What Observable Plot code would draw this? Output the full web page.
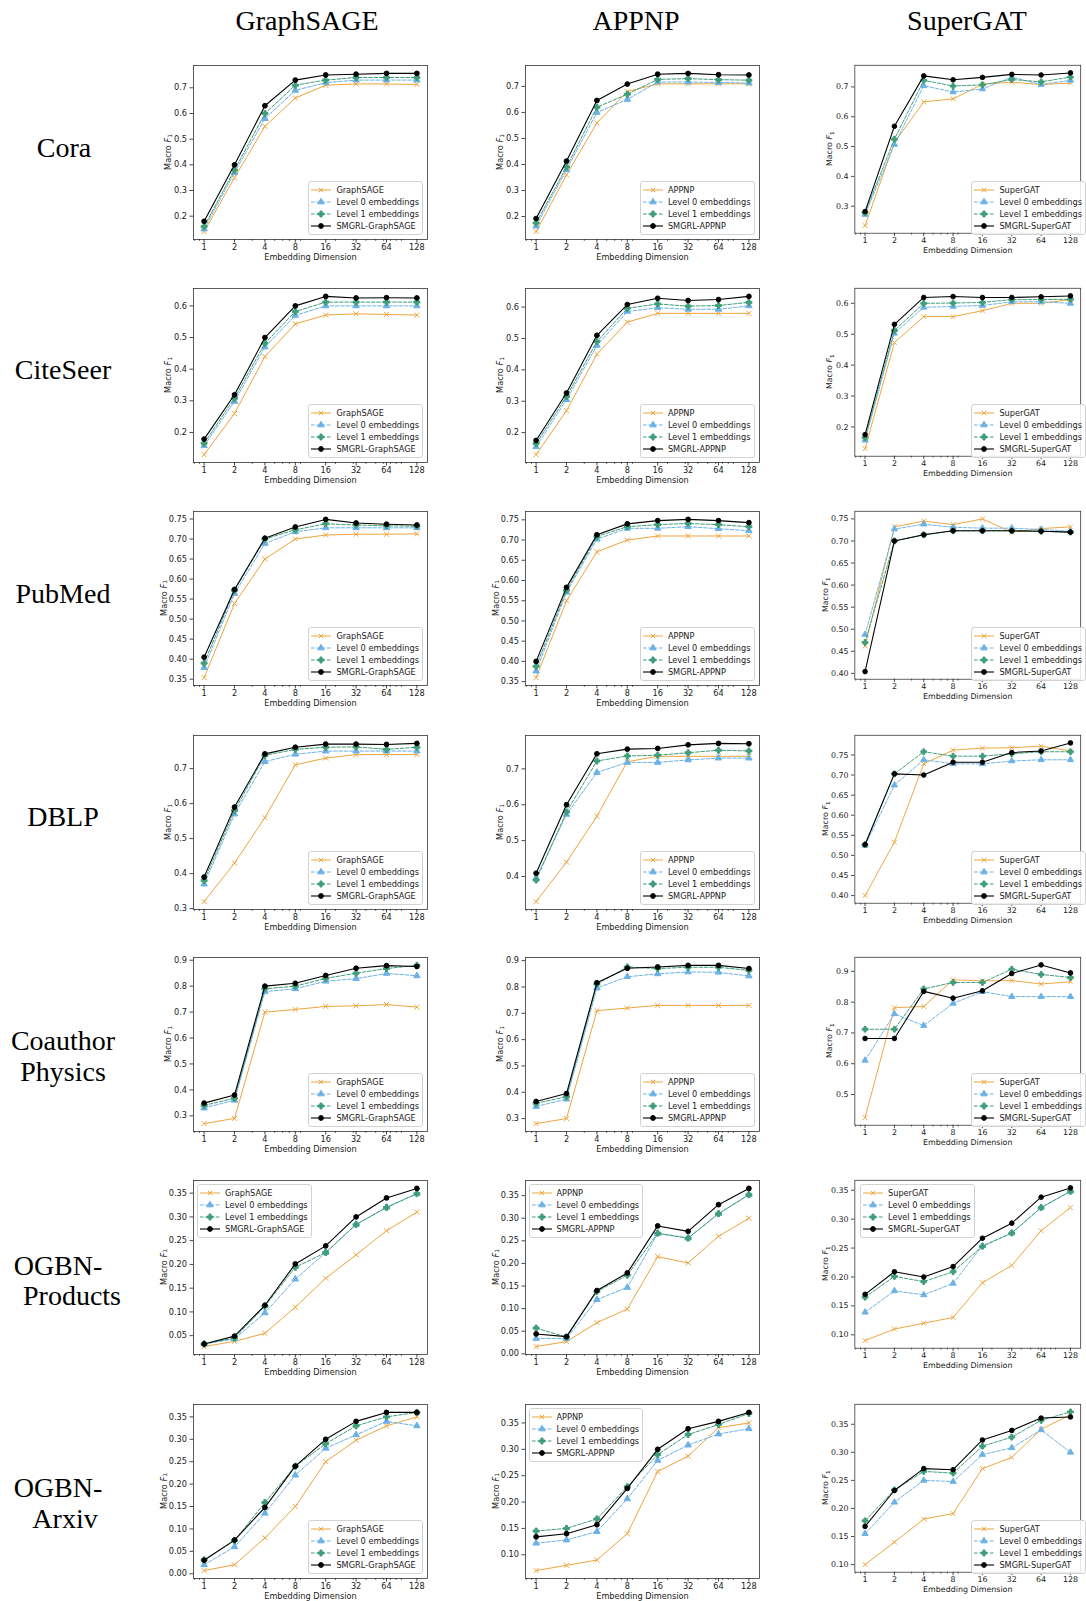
<!DOCTYPE html>
<html>
<head>
<meta charset="utf-8">
<script src="https://cdn.jsdelivr.net/npm/d3@7"></script>
<script src="https://cdn.jsdelivr.net/npm/@observablehq/plot@0.6"></script>
<style>
  html, body { margin: 0; padding: 0; background: #fff; }
  #page { position: relative; width: 1086px; height: 1601px; overflow: hidden; background: #fff; }
  .serif { position: absolute; font-family: "Liberation Serif", "Times New Roman", serif; font-size: 28px; color: #000;
           transform: translate(-50%, -50%); white-space: nowrap; line-height: 1; }
  .panel { position: absolute; }
  .legend { position: absolute; background: rgba(255,255,255,0.85); border: 1px solid #d2d2d2; border-radius: 3px;
            padding: 2px 3px 2px 2px; font-family: "DejaVu Sans", sans-serif; font-size: 8.2px; color: #1a1a1a; }
  .legend .item { display: flex; align-items: center; height: 12px; white-space: nowrap; }
  .legend svg { display: block; margin-right: 5px; }
</style>
</head>
<body>
<div id="page"></div>
<script>
// ---------------- data ----------------
const dims = [1, 2, 4, 8, 16, 32, 64, 128];
const dimLabels = ["1", "2", "4", "8", "16", "32", "64", "128"];
const minorTicks = [0.8, 0.9, 3, 5, 6, 7, 9, 20, 30, 40, 50, 60, 70, 80, 90];
const models = ["GraphSAGE", "APPNP", "SuperGAT"];
const datasetLabels = [["Cora"], ["CiteSeer"], ["PubMed"], ["DBLP"], ["Coauthor", "Physics"], ["OGBN-", "Products"], ["OGBN-", "Arxiv"]];
const seriesLabels = ["", "Level 0 embeddings", "Level 1 embeddings", "SMGRL-"];
const xLabel = "Embedding Dimension";

// each: [base model, Level 0 embeddings, Level 1 embeddings, SMGRL-model]
const cora_GraphSAGE = [
  [0.14, 0.35, 0.55, 0.66, 0.71, 0.715, 0.715, 0.713],
  [0.15, 0.37, 0.58, 0.69, 0.72, 0.73, 0.73, 0.73],
  [0.16, 0.38, 0.60, 0.71, 0.73, 0.74, 0.74, 0.74],
  [0.18, 0.40, 0.63, 0.73, 0.75, 0.753, 0.756, 0.756]];
const cora_APPNP = [
  [0.142, 0.36, 0.56, 0.68, 0.71, 0.71, 0.71, 0.71],
  [0.163, 0.38, 0.60, 0.65, 0.717, 0.717, 0.715, 0.713],
  [0.175, 0.39, 0.62, 0.67, 0.727, 0.73, 0.726, 0.724],
  [0.192, 0.413, 0.646, 0.709, 0.747, 0.75, 0.745, 0.744]];
const cora_SuperGAT = [
  [0.235, 0.513, 0.65, 0.66, 0.709, 0.716, 0.708, 0.713],
  [0.272, 0.507, 0.704, 0.683, 0.693, 0.733, 0.708, 0.722],
  [0.278, 0.525, 0.722, 0.703, 0.707, 0.725, 0.717, 0.733],
  [0.282, 0.568, 0.737, 0.724, 0.732, 0.742, 0.74, 0.747]];

const citeseer_GraphSAGE = [
  [0.13, 0.26, 0.44, 0.543, 0.571, 0.575, 0.573, 0.571],
  [0.158, 0.298, 0.47, 0.57, 0.60, 0.60, 0.60, 0.60],
  [0.166, 0.308, 0.482, 0.582, 0.612, 0.612, 0.612, 0.612],
  [0.179, 0.319, 0.50, 0.60, 0.63, 0.625, 0.626, 0.625]];
const citeseer_APPNP = [
  [0.13, 0.27, 0.45, 0.552, 0.58, 0.58, 0.58, 0.58],
  [0.155, 0.305, 0.478, 0.586, 0.598, 0.593, 0.593, 0.604],
  [0.165, 0.315, 0.49, 0.596, 0.61, 0.603, 0.605, 0.615],
  [0.175, 0.326, 0.51, 0.608, 0.628, 0.621, 0.624, 0.634]];
const citeseer_SuperGAT = [
  [0.13, 0.473, 0.557, 0.557, 0.576, 0.60, 0.60, 0.612],
  [0.157, 0.503, 0.587, 0.59, 0.593, 0.605, 0.605, 0.60],
  [0.165, 0.512, 0.60, 0.601, 0.603, 0.612, 0.612, 0.613],
  [0.175, 0.532, 0.619, 0.622, 0.619, 0.619, 0.621, 0.624]];

const pubmed_GraphSAGE = [
  [0.354, 0.539, 0.65, 0.70, 0.71, 0.712, 0.712, 0.713],
  [0.379, 0.564, 0.689, 0.718, 0.728, 0.728, 0.728, 0.728],
  [0.39, 0.572, 0.70, 0.723, 0.738, 0.735, 0.733, 0.732],
  [0.405, 0.574, 0.702, 0.73, 0.749, 0.74, 0.737, 0.735]];
const pubmed_APPNP = [
  [0.36, 0.55, 0.671, 0.70, 0.71, 0.71, 0.71, 0.71],
  [0.376, 0.571, 0.702, 0.729, 0.729, 0.733, 0.728, 0.723],
  [0.388, 0.576, 0.709, 0.733, 0.738, 0.741, 0.738, 0.733],
  [0.40, 0.583, 0.713, 0.74, 0.748, 0.751, 0.748, 0.743]];
const pubmed_SuperGAT = [
  [0.462, 0.732, 0.745, 0.737, 0.75, 0.72, 0.728, 0.732],
  [0.488, 0.727, 0.738, 0.731, 0.729, 0.729, 0.726, 0.722],
  [0.47, 0.70, 0.714, 0.723, 0.723, 0.723, 0.722, 0.72],
  [0.404, 0.70, 0.714, 0.723, 0.723, 0.723, 0.722, 0.72]];

const dblp_GraphSAGE = [
  [0.32, 0.43, 0.56, 0.711, 0.73, 0.74, 0.74, 0.74],
  [0.37, 0.57, 0.72, 0.741, 0.75, 0.75, 0.75, 0.75],
  [0.38, 0.58, 0.738, 0.755, 0.761, 0.762, 0.755, 0.761],
  [0.39, 0.59, 0.742, 0.761, 0.77, 0.77, 0.769, 0.772]];
const dblp_APPNP = [
  [0.33, 0.44, 0.568, 0.72, 0.735, 0.735, 0.735, 0.735],
  [0.396, 0.573, 0.69, 0.718, 0.718, 0.725, 0.73, 0.73],
  [0.39, 0.58, 0.722, 0.736, 0.738, 0.745, 0.752, 0.75],
  [0.409, 0.60, 0.742, 0.755, 0.757, 0.767, 0.771, 0.77]];
const dblp_SuperGAT = [
  [0.40, 0.533, 0.728, 0.762, 0.767, 0.768, 0.772, 0.76],
  [0.525, 0.675, 0.738, 0.728, 0.728, 0.735, 0.738, 0.738],
  [0.527, 0.703, 0.758, 0.747, 0.747, 0.753, 0.758, 0.758],
  [0.527, 0.703, 0.70, 0.732, 0.732, 0.756, 0.76, 0.78]];

const physics_GraphSAGE = [
  [0.27, 0.29, 0.70, 0.71, 0.722, 0.724, 0.729, 0.719],
  [0.33, 0.36, 0.779, 0.79, 0.819, 0.829, 0.849, 0.84],
  [0.34, 0.368, 0.79, 0.80, 0.83, 0.85, 0.868, 0.88],
  [0.349, 0.38, 0.80, 0.811, 0.841, 0.869, 0.879, 0.876]];
const physics_APPNP = [
  [0.281, 0.30, 0.71, 0.72, 0.73, 0.73, 0.73, 0.73],
  [0.346, 0.374, 0.796, 0.839, 0.85, 0.857, 0.856, 0.842],
  [0.358, 0.383, 0.811, 0.876, 0.87, 0.875, 0.875, 0.863],
  [0.365, 0.395, 0.816, 0.871, 0.876, 0.882, 0.882, 0.87]];
const physics_SuperGAT = [
  [0.425, 0.782, 0.786, 0.873, 0.869, 0.87, 0.859, 0.866],
  [0.611, 0.762, 0.724, 0.796, 0.834, 0.818, 0.818, 0.818],
  [0.712, 0.712, 0.843, 0.864, 0.864, 0.907, 0.89, 0.88],
  [0.682, 0.682, 0.835, 0.813, 0.837, 0.893, 0.921, 0.895]];

const products_GraphSAGE = [
  [0.027, 0.038, 0.055, 0.11, 0.171, 0.22, 0.271, 0.31],
  [0.033, 0.043, 0.098, 0.169, 0.225, 0.284, 0.32, 0.349],
  [0.0325, 0.045, 0.112, 0.194, 0.225, 0.284, 0.32, 0.349],
  [0.0325, 0.049, 0.114, 0.201, 0.239, 0.30, 0.34, 0.36]];
const products_APPNP = [
  [0.016, 0.027, 0.069, 0.099, 0.215, 0.201, 0.26, 0.30],
  [0.034, 0.034, 0.12, 0.147, 0.266, 0.256, 0.31, 0.352],
  [0.057, 0.037, 0.138, 0.174, 0.267, 0.256, 0.31, 0.352],
  [0.044, 0.038, 0.14, 0.179, 0.283, 0.271, 0.33, 0.366]];
const products_SuperGAT = [
  [0.09, 0.11, 0.12, 0.13, 0.19, 0.22, 0.28, 0.32],
  [0.139, 0.176, 0.169, 0.189, 0.254, 0.276, 0.32, 0.348],
  [0.165, 0.201, 0.192, 0.209, 0.253, 0.276, 0.32, 0.348],
  [0.17, 0.209, 0.20, 0.218, 0.267, 0.293, 0.338, 0.354]];

const arxiv_GraphSAGE = [
  [0.007, 0.02, 0.08, 0.15, 0.25, 0.298, 0.33, 0.35],
  [0.02, 0.06, 0.135, 0.22, 0.28, 0.31, 0.34, 0.33],
  [0.031, 0.074, 0.159, 0.24, 0.29, 0.33, 0.35, 0.36],
  [0.03, 0.075, 0.148, 0.24, 0.30, 0.34, 0.36, 0.36]];
const arxiv_APPNP = [
  [0.07, 0.08, 0.09, 0.14, 0.258, 0.287, 0.341, 0.35],
  [0.122, 0.128, 0.144, 0.206, 0.279, 0.308, 0.329, 0.339],
  [0.145, 0.15, 0.168, 0.229, 0.29, 0.328, 0.347, 0.368],
  [0.134, 0.14, 0.157, 0.226, 0.30, 0.339, 0.353, 0.37]];
const arxiv_SuperGAT = [
  [0.10, 0.14, 0.181, 0.191, 0.271, 0.291, 0.341, 0.367],
  [0.155, 0.211, 0.25, 0.248, 0.296, 0.308, 0.34, 0.30],
  [0.178, 0.233, 0.266, 0.263, 0.311, 0.327, 0.357, 0.372],
  [0.168, 0.232, 0.271, 0.269, 0.322, 0.339, 0.361, 0.363]];

// y tick labels per panel
const ticks_cora = [["0.2","0.3","0.4","0.5","0.6","0.7"], ["0.2","0.3","0.4","0.5","0.6","0.7"], ["0.3","0.4","0.5","0.6","0.7"]];
const ticks_citeseer = [["0.2","0.3","0.4","0.5","0.6"], ["0.2","0.3","0.4","0.5","0.6"], ["0.2","0.3","0.4","0.5","0.6"]];
const ticks_pubmed = [["0.35","0.40","0.45","0.50","0.55","0.60","0.65","0.70","0.75"], ["0.35","0.40","0.45","0.50","0.55","0.60","0.65","0.70","0.75"], ["0.40","0.45","0.50","0.55","0.60","0.65","0.70","0.75"]];
const ticks_dblp = [["0.3","0.4","0.5","0.6","0.7"], ["0.4","0.5","0.6","0.7"], ["0.40","0.45","0.50","0.55","0.60","0.65","0.70","0.75"]];
const ticks_physics = [["0.3","0.4","0.5","0.6","0.7","0.8","0.9"], ["0.3","0.4","0.5","0.6","0.7","0.8","0.9"], ["0.5","0.6","0.7","0.8","0.9"]];
const ticks_products = [["0.05","0.10","0.15","0.20","0.25","0.30","0.35"], ["0.00","0.05","0.10","0.15","0.20","0.25","0.30","0.35"], ["0.10","0.15","0.20","0.25","0.30","0.35"]];
const ticks_arxiv = [["0.00","0.05","0.10","0.15","0.20","0.25","0.30","0.35"], ["0.10","0.15","0.20","0.25","0.30","0.35"], ["0.10","0.15","0.20","0.25","0.30","0.35"]];

// legend placement: br = lower right, tl = upper left
const legend_cora = ["br", "br", "br"];
const legend_citeseer = ["br", "br", "br"];
const legend_pubmed = ["br", "br", "br"];
const legend_dblp = ["br", "br", "br"];
const legend_physics = ["br", "br", "br"];
const legend_products = ["tl", "tl", "tl"];
const legend_arxiv = ["br", "tl", "br"];

const rows = [
  {values: [cora_GraphSAGE, cora_APPNP, cora_SuperGAT], ticks: ticks_cora, legend: legend_cora},
  {values: [citeseer_GraphSAGE, citeseer_APPNP, citeseer_SuperGAT], ticks: ticks_citeseer, legend: legend_citeseer},
  {values: [pubmed_GraphSAGE, pubmed_APPNP, pubmed_SuperGAT], ticks: ticks_pubmed, legend: legend_pubmed},
  {values: [dblp_GraphSAGE, dblp_APPNP, dblp_SuperGAT], ticks: ticks_dblp, legend: legend_dblp},
  {values: [physics_GraphSAGE, physics_APPNP, physics_SuperGAT], ticks: ticks_physics, legend: legend_physics},
  {values: [products_GraphSAGE, products_APPNP, products_SuperGAT], ticks: ticks_products, legend: legend_products},
  {values: [arxiv_GraphSAGE, arxiv_APPNP, arxiv_SuperGAT], ticks: ticks_arxiv, legend: legend_arxiv}
];

// ---------------- styles & layout ----------------
const styles = [
  {color: "#eda53c", dash: null, width: 1.0, symbol: "times", r: 2.4, fill: "none", stroke: "#eda53c"},
  {color: "#6cb1e6", dash: "3.6,1.7", width: 1.0, symbol: "triangle", r: 2.4, fill: "#6cb1e6", stroke: "#6cb1e6"},
  {color: "#3f9d78", dash: "3.6,1.7", width: 1.0, symbol: "cross", r: 2.5, fill: "#3f9d78", stroke: "#3f9d78"},
  {color: "#000000", dash: null, width: 1.1, symbol: "circle", r: 2.4, fill: "#000000", stroke: "#000000"}
];
const FW = 234, FH = 174;              // frame size
const ML = 48, MR = 6, MT = 6, MB = 28; // margins around frame
const colLeft = [193, 524.5, 856];
const rowTop = [65, 288, 511, 734.5, 957, 1180, 1404];
const headerPos = [[307, 21], [636, 21], [967, 21]];
const rowLabelPos = [
  [[64, 148]], [[63, 370]], [[63, 594]], [[63, 817]],
  [[63, 1041], [63, 1072]],
  [[58, 1266], [72, 1296]],
  [[58, 1488], [65, 1519]]
];
const fontTick = 8.2;

const page = document.getElementById("page");

models.forEach((m, i) => {
  const d = document.createElement("div");
  d.className = "serif";
  d.textContent = m;
  d.style.left = headerPos[i][0] + "px";
  d.style.top = headerPos[i][1] + "px";
  page.appendChild(d);
});
datasetLabels.forEach((lines, r) => {
  lines.forEach((t, k) => {
    const d = document.createElement("div");
    d.className = "serif";
    d.textContent = t;
    d.style.left = rowLabelPos[r][k][0] + "px";
    d.style.top = rowLabelPos[r][k][1] + "px";
    page.appendChild(d);
  });
});

function symbolPath(name, r) {
  if (name === "times") {
    const a = r * 0.9;
    return `M${-a},${-a}L${a},${a}M${-a},${a}L${a},${-a}`;
  }
  const type = {circle: d3.symbolCircle, triangle: d3.symbolTriangle, cross: d3.symbolCross}[name];
  return d3.symbol(type, Math.PI * r * r)();
}

function makeLegend(model, pos, fl, ft) {
  const box = document.createElement("div");
  box.className = "legend";
  seriesLabels.forEach((lab, s) => {
    const st = styles[s];
    const text = s === 0 ? model : (s === 3 ? lab + model : lab);
    const item = document.createElement("div");
    item.className = "item";
    const svg = d3.create("svg").attr("width", 20).attr("height", 12);
    svg.append("line").attr("x1", 0).attr("x2", 20).attr("y1", 6).attr("y2", 6)
      .attr("stroke", st.color).attr("stroke-width", st.width)
      .attr("stroke-dasharray", st.dash);
    svg.append("path").attr("d", symbolPath(st.symbol, st.r))
      .attr("transform", "translate(10,6)")
      .attr("fill", st.fill).attr("stroke", st.stroke).attr("stroke-width", 1);
    item.appendChild(svg.node());
    const span = document.createElement("span");
    span.textContent = text;
    item.appendChild(span);
    box.appendChild(item);
  });
  if (pos === "br") {
    box.style.right = (1086 - (fl + FW - 4)) + "px";
    box.style.bottom = (1601 - (ft + FH - 4)) + "px";
  } else {
    box.style.left = (fl + 4) + "px";
    box.style.top = (ft + 4) + "px";
  }
  page.appendChild(box);
}

rows.forEach((row, r) => {
  row.values.forEach((series, c) => {
    const model = models[c];
    const tickLabels = row.ticks[c];
    const tickVals = tickLabels.map(Number);
    const all = series.flat();
    const lo = d3.min(all), hi = d3.max(all), pad = (hi - lo) * 0.05;
    const marks = [];
    series.forEach((vals, s) => {
      const st = styles[s];
      const data = vals.map((v, i) => ({x: dims[i], y: v}));
      marks.push(Plot.line(data, {x: "x", y: "y", stroke: st.color, strokeWidth: st.width, strokeDasharray: st.dash}));
      marks.push(Plot.dot(data, {x: "x", y: "y", symbol: st.symbol, r: st.r, fill: st.fill, stroke: st.stroke, strokeWidth: 1}));
    });
    marks.push(Plot.frame({stroke: "#333", strokeWidth: 0.8}));
    marks.push(Plot.axisY({ticks: tickVals, tickFormat: d => tickLabels[tickVals.indexOf(d)], tickSize: 3.5, tickPadding: 3, fontSize: fontTick, label: null, strokeWidth: 0.8}));
    // x ticks (major + minor) drawn by axis marks; major labels drawn as text through the x scale
    marks.push(Plot.axisX({ticks: dims, tickFormat: () => "", tickSize: 3.5, label: null, strokeWidth: 0.8}));
    marks.push(Plot.axisX({ticks: minorTicks, tickFormat: () => "", tickSize: 2, label: null, strokeWidth: 0.6}));
    marks.push(Plot.text(dims, {x: d => d, text: (d, i) => dimLabels[i], frameAnchor: "bottom", dy: 10, fontSize: fontTick, fill: "#1a1a1a"}));
    marks.push(Plot.text([xLabel], {text: d => d, frameAnchor: "bottom", dy: 20.5, fontSize: fontTick, fill: "#1a1a1a"}));

    const svg = Plot.plot({
      width: ML + FW + MR, height: MT + FH + MB,
      marginLeft: ML, marginRight: MR, marginTop: MT, marginBottom: MB,
      x: {type: "log", domain: [0.785, 163]},
      y: {domain: [lo - pad, hi + pad]},
      style: {fontFamily: "'DejaVu Sans', sans-serif", fontSize: fontTick + "px", color: "#1a1a1a", background: "transparent", overflow: "visible"},
      marks
    });
    const maxLen = d3.max(tickLabels, t => t.length);
    const off = maxLen >= 4 ? 29.5 : 25;
    const t = d3.select(svg).append("text")
      .attr("transform", `translate(${ML - off},${MT + FH / 2}) rotate(-90)`)
      .attr("text-anchor", "middle").attr("dominant-baseline", "middle")
      .attr("font-size", fontTick).attr("fill", "#1a1a1a");
    t.append("tspan").text("Macro ");
    t.append("tspan").attr("font-style", "italic").text("F");
    t.append("tspan").attr("font-size", 5.8).attr("dy", 1.8).text("1");

    const wrap = document.createElement("div");
    wrap.className = "panel";
    const fl = colLeft[c], ft = rowTop[r];
    wrap.style.left = (fl - ML) + "px";
    wrap.style.top = (ft - MT) + "px";
    wrap.appendChild(svg);
    page.appendChild(wrap);
    makeLegend(model, row.legend[c], fl, ft);
  });
});
</script>
</body>
</html>
